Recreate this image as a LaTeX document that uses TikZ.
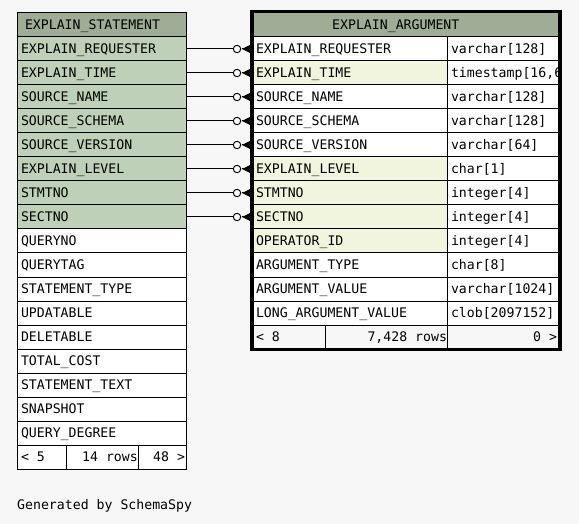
\documentclass[tikz,border=0pt]{standalone}
\usepackage{fontspec}
\setmonofont{DejaVu Sans Mono}
\definecolor{bgc}{HTML}{F7F7F7}
\definecolor{hdr}{HTML}{9FAD97}
\definecolor{keyc}{HTML}{BFD0B9}
\definecolor{idxc}{HTML}{F2F5DE}
\newcommand\msp{\hspace*{7.95pt}}
\tikzset{
  cell/.style={draw=black, line width=1pt, anchor=north west, minimum height=24pt,
    inner ysep=0pt, outer sep=0pt, inner xsep=4pt, text height=9pt, text depth=0pt,
    align=left, fill=white, font=\ttfamily\fontsize{13.2}{14}\selectfont},
  lcol/.style={cell, text width=161pt},
  rname/.style={cell, text width=187pt},
  rtype/.style={cell, text width=105pt},
  conn/.style={draw=black, line width=1pt},
  lbl/.style={font=\ttfamily\fontsize{13.2}{14}\selectfont, inner sep=0pt, text height=9pt, text depth=0pt},
}
\begin{document}
\begin{tikzpicture}[x=1pt,y=-1pt]
\fill[bgc] (0,0) rectangle (579,524);
\useasboundingbox (0,0) rectangle (579,524);

% ---------- left table ----------
\node[lcol, fill=hdr, minimum height=24pt, inner xsep=0pt, text width=169pt] (lh) at (17,13) {\hspace*{8pt}EXPLAIN\_STATEMENT};
\foreach \i/\t/\c in {1/EXPLAIN\_REQUESTER/keyc, 2/EXPLAIN\_TIME/keyc, 3/SOURCE\_NAME/keyc,
  4/SOURCE\_SCHEMA/keyc, 5/SOURCE\_VERSION/keyc, 6/EXPLAIN\_LEVEL/keyc, 7/STMTNO/keyc,
  8/SECTNO/keyc, 9/QUERYNO/white, 10/QUERYTAG/white, 11/STATEMENT\_TYPE/white,
  12/UPDATABLE/white, 13/DELETABLE/white, 14/TOTAL\_COST/white, 15/STATEMENT\_TEXT/white,
  16/SNAPSHOT/white, 17/QUERY\_DEGREE/white}
  \node[lcol, fill=\c] (l\i) at (17,{37+24*(\i-1)}) {\t};
% footer
\node[cell, text width=41.7pt] (lf1) at (17,445) {<\msp5};
\node[cell, text width=70.6pt, align=right, inner xsep=0.5pt] (lf2) at (66.7,445) {14\msp rows};
\node[cell, text width=45.7pt, align=right, inner xsep=1pt] (lf3) at (138.3,445) {48\msp>};

% ---------- right table ----------
\node[cell, fill=hdr, text width=308pt, inner xsep=0pt, minimum height=25pt] (rh) at (252,12) {};
\node[lbl, anchor=west] (rht) at (332,25) {EXPLAIN\_ARGUMENT};
\foreach \i/\t/\ty/\c in {1/EXPLAIN\_REQUESTER/varchar[128]/white,
  2/EXPLAIN\_TIME/timestamp[16{,}6]/idxc,
  3/SOURCE\_NAME/varchar[128]/white,
  4/SOURCE\_SCHEMA/varchar[128]/white,
  5/SOURCE\_VERSION/varchar[64]/white,
  6/EXPLAIN\_LEVEL/char[1]/idxc,
  7/STMTNO/integer[4]/idxc,
  8/SECTNO/integer[4]/idxc,
  9/OPERATOR\_ID/integer[4]/idxc,
  10/ARGUMENT\_TYPE/char[8]/white,
  11/ARGUMENT\_VALUE/varchar[1024]/white,
  12/LONG\_ARGUMENT\_VALUE/clob[2097152]/white}
{
  \node[rname, fill=\c] (r\i) at (252,{37+24*(\i-1)}) {\t};
  \begin{scope}
    \clip (447,{37+24*(\i-1)-1}) rectangle (558,{61+24*(\i-1)+1});
    \node[rtype] (t\i) at (447,{37+24*(\i-1)}) {\ty};
  \end{scope}
}
% footer
\node[cell, fill=bgc, text width=65pt] (rf1) at (252,325) {<\msp8};
\begin{scope}
  \clip (325,324) rectangle (447,350);
  \node[cell, fill=bgc, text width=122pt, align=right, inner xsep=0pt] (rf2) at (325,325) {7,428\msp rows\hspace*{-1.5pt}};
\end{scope}
\node[cell, fill=bgc, text width=107pt, align=right, inner xsep=3pt] (rf3) at (447,325) {0\msp>};
% thick outer border
\draw[line width=3.5pt] (252,11.5) rectangle (560,349.5);

% ---------- connectors ----------
\foreach \i in {1,...,8}{
  \draw[conn] (l\i.east) -- ([xshift=-18.7pt]r\i.west);
  \draw[conn, fill=white] ([xshift=-15pt]r\i.west) circle (3.7pt);
  \fill[black] ([xshift=-10pt]r\i.west) -- ([xshift=-1pt,yshift=4.5pt]r\i.west) -- ([xshift=-1pt,yshift=-4.5pt]r\i.west) -- cycle;
  \draw[line width=1pt] ([xshift=-10pt]r\i.west) -- ([xshift=-1pt]r\i.west);
}

\node[lbl, anchor=west] (gen) at (17,504.5) {Generated\msp by\msp SchemaSpy};
\end{tikzpicture}
\end{document}
